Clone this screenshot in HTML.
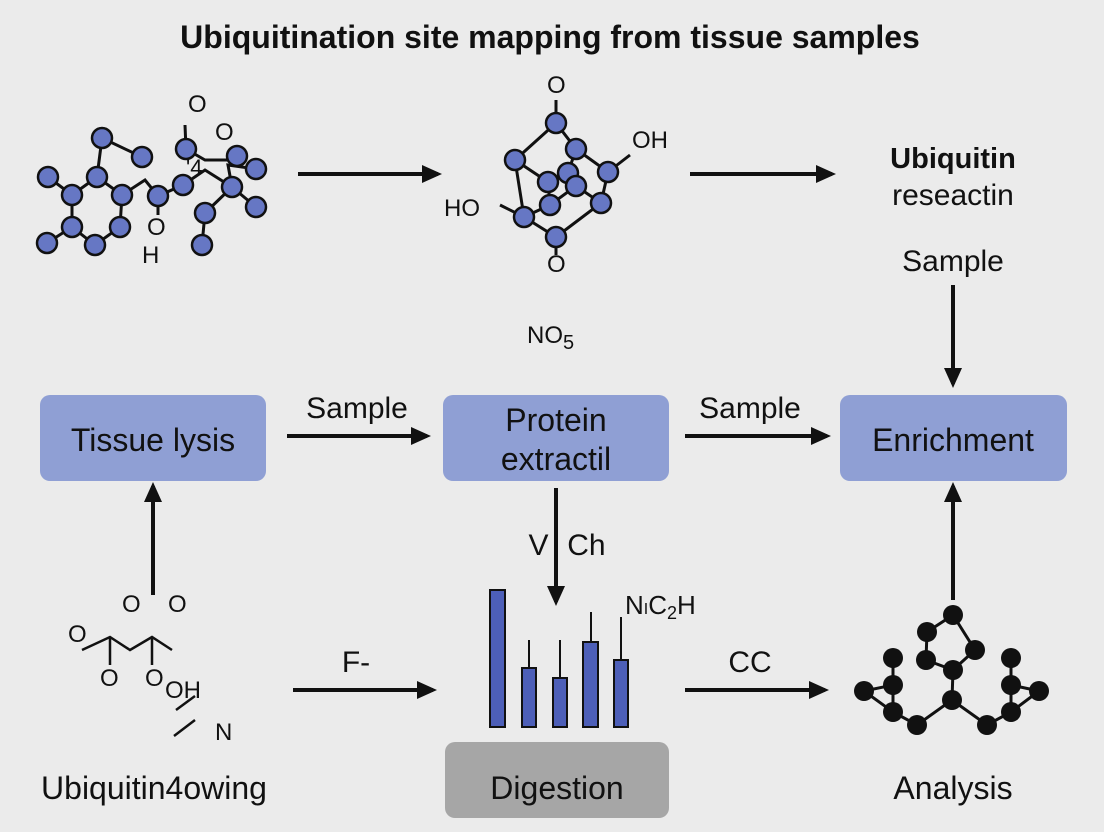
<!DOCTYPE html>
<html><head><meta charset="utf-8"><style>
html,body{margin:0;padding:0;background:#ebebeb;}
svg{display:block;font-family:"Liberation Sans",sans-serif;}
</style></head><body>
<svg width="1104" height="832" viewBox="0 0 1104 832" xmlns="http://www.w3.org/2000/svg">
<defs>
<marker id="ah" markerWidth="20" markerHeight="20" refX="16" refY="10" orient="auto" markerUnits="userSpaceOnUse" viewBox="0 0 20 20">
<path d="M0,1 L20,10 L0,19 z" fill="#111"/></marker>
</defs>
<rect width="1104" height="832" fill="#ebebeb"/>
<text x="550" y="48" text-anchor="middle" font-size="32" font-weight="bold" fill="#111">Ubiquitination site mapping from tissue samples</text>

<!-- top-left molecule -->
<g stroke="#111" stroke-width="3" fill="none">
<path d="M48,177 L72,195 L97,177 L122,195 L120,227 L95,245 L72,227 L72,195 M72,227 L47,243 M97,177 L102,138 L142,157 M122,195 L145,180 L158,196 L183,185 L205,170 L232,187 L228,165 L256,169 M232,187 L256,207 M232,187 L205,213 L202,245 M186,149 L205,160 L232,160 M158,196 L158,215 M186,149 L185,125"/>
</g>
<g fill="#6677c4" stroke="#111" stroke-width="2.5">
<circle cx="48" cy="177" r="10"/><circle cx="72" cy="195" r="10"/><circle cx="97" cy="177" r="10"/><circle cx="102" cy="138" r="10"/><circle cx="142" cy="157" r="10"/><circle cx="122" cy="195" r="10"/><circle cx="72" cy="227" r="10"/><circle cx="47" cy="243" r="10"/><circle cx="95" cy="245" r="10"/><circle cx="120" cy="227" r="10"/><circle cx="183" cy="185" r="10"/><circle cx="158" cy="196" r="10"/><circle cx="186" cy="149" r="10"/><circle cx="237" cy="156" r="10"/><circle cx="232" cy="187" r="10"/><circle cx="256" cy="169" r="10"/><circle cx="256" cy="207" r="10"/><circle cx="205" cy="213" r="10"/><circle cx="202" cy="245" r="10"/>
</g>
<g font-size="24" fill="#111">
<text x="188" y="112">O</text><text x="215" y="140">O</text><text x="186" y="175" font-size="22">'4</text><text x="147" y="235">O</text><text x="142" y="263">H</text>
</g>

<!-- top middle molecule -->
<g stroke="#111" stroke-width="3" fill="none">
<path d="M556,123 L515,160 L524,217 L556,237 L601,203 L608,172 L576,149 L556,123 M515,160 L548,182 L568,173 L576,149 M548,182 L550,205 L576,186 L568,173 M576,186 L601,203 M550,205 L524,217 M556,123 L556,100 M556,237 L556,255 M608,172 L630,155 M524,217 L500,205"/>
</g>
<g fill="#6677c4" stroke="#111" stroke-width="2.5">
<circle cx="556" cy="123" r="10"/><circle cx="515" cy="160" r="10"/><circle cx="576" cy="149" r="10"/><circle cx="608" cy="172" r="10"/><circle cx="568" cy="173" r="10"/><circle cx="548" cy="182" r="10"/><circle cx="601" cy="203" r="10"/><circle cx="576" cy="186" r="10"/><circle cx="550" cy="205" r="10"/><circle cx="524" cy="217" r="10"/><circle cx="556" cy="237" r="10"/>
</g>
<g font-size="24" fill="#111">
<text x="547" y="93">O</text><text x="632" y="148">OH</text><text x="444" y="216">HO</text><text x="547" y="272">O</text>
<text x="527" y="343">NO<tspan font-size="20" dy="6">5</tspan></text>
</g>

<!-- arrows -->
<g stroke="#111" stroke-width="4" marker-end="url(#ah)">
<line x1="298" y1="174" x2="438" y2="174"/>
<line x1="690" y1="174" x2="832" y2="174"/>
<line x1="953" y1="285" x2="953" y2="384"/>
<line x1="287" y1="436" x2="427" y2="436"/>
<line x1="685" y1="436" x2="827" y2="436"/>
<line x1="556" y1="488" x2="556" y2="602"/>
<line x1="153" y1="595" x2="153" y2="486"/>
<line x1="953" y1="600" x2="953" y2="486"/>
<line x1="293" y1="690" x2="433" y2="690"/>
<line x1="685" y1="690" x2="825" y2="690"/>
</g>
<g font-size="30" fill="#111" text-anchor="middle">
<text x="953" y="168" font-weight="bold" font-size="29">Ubiquitin</text>
<text x="953" y="205">reseactin</text>
<text x="953" y="271">Sample</text>
<text x="357" y="418">Sample</text>
<text x="750" y="418">Sample</text>
<text x="567" y="555">V│Ch</text>
<text x="356" y="672">F-</text>
<text x="750" y="672">CC</text>
</g>

<!-- boxes -->
<rect x="40" y="395" width="226" height="86" rx="10" fill="#8f9fd4"/>
<rect x="443" y="395" width="226" height="86" rx="10" fill="#8f9fd4"/>
<rect x="840" y="395" width="227" height="86" rx="10" fill="#8f9fd4"/>
<rect x="445" y="742" width="224" height="76" rx="10" fill="#a6a6a6"/>
<g font-size="32" fill="#111" text-anchor="middle">
<text x="153" y="451">Tissue lysis</text>
<text x="556" y="431">Protein</text>
<text x="556" y="470">extractil</text>
<text x="953" y="451">Enrichment</text>
<text x="557" y="799">Digestion</text>
<text x="154" y="799">Ubiquitin4owing</text>
<text x="953" y="799">Analysis</text>
</g>

<!-- bottom left molecule -->
<g stroke="#111" stroke-width="2.5" fill="none">
<path d="M82,650 L110,637 L130,650 L152,637 L172,650 M110,637 L110,665 M152,637 L152,665 M176,710 L195,696 M174,736 L195,720"/>
</g>
<g font-size="24" fill="#111">
<text x="122" y="612">O</text><text x="168" y="612">O</text><text x="68" y="642">O</text><text x="100" y="686">O</text><text x="145" y="686">O</text><text x="165" y="698">OH</text><text x="215" y="740">N</text>
</g>

<!-- bars -->
<g stroke="#111" stroke-width="2">
<line x1="529" y1="640" x2="529" y2="668"/><line x1="560" y1="640" x2="560" y2="678"/><line x1="591" y1="612" x2="591" y2="642"/><line x1="621" y1="617" x2="621" y2="660"/>
</g>
<g fill="#4d5fb8" stroke="#111" stroke-width="2">
<rect x="490" y="590" width="15" height="137"/><rect x="522" y="668" width="14" height="59"/><rect x="553" y="678" width="14" height="49"/><rect x="583" y="642" width="15" height="85"/><rect x="614" y="660" width="14" height="67"/>
</g>
<text x="625" y="614" font-size="26" fill="#111">N<tspan font-size="16">I</tspan>C<tspan font-size="18" dy="5">2</tspan><tspan dy="-5">H</tspan></text>

<!-- black network -->
<g stroke="#111" stroke-width="3" fill="none">
<path d="M953,615 L927,632 L926,660 L953,670 L975,650 L953,615 M953,670 L952,700 L917,725 L893,712 L864,691 L893,685 L893,658 M893,685 L893,712 M952,700 L987,725 L1011,712 L1039,691 L1011,685 L1011,658 M1011,685 L1011,712"/>
</g>
<g fill="#111">
<circle cx="953" cy="615" r="10"/><circle cx="927" cy="632" r="10"/><circle cx="926" cy="660" r="10"/><circle cx="975" cy="650" r="10"/><circle cx="953" cy="670" r="10"/><circle cx="952" cy="700" r="10"/><circle cx="893" cy="658" r="10"/><circle cx="893" cy="685" r="10"/><circle cx="864" cy="691" r="10"/><circle cx="893" cy="712" r="10"/><circle cx="917" cy="725" r="10"/><circle cx="1011" cy="658" r="10"/><circle cx="1011" cy="685" r="10"/><circle cx="1039" cy="691" r="10"/><circle cx="1011" cy="712" r="10"/><circle cx="987" cy="725" r="10"/>
</g>
</svg>
</body></html>
